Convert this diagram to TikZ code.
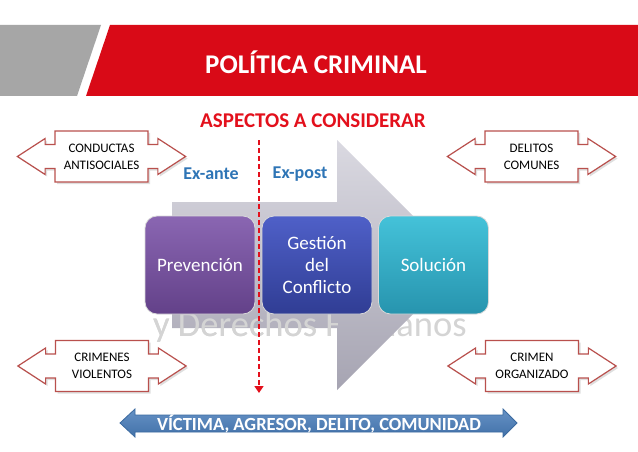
\documentclass[tikz,border=0pt]{standalone}
\usepackage{fontspec}
\setmainfont{Carlito}
\usetikzlibrary{arrows.meta,shapes.arrows,shadows}

\definecolor{barred}{HTML}{D90A17}
\definecolor{bargray}{HTML}{A6A6A6}
\definecolor{headred}{HTML}{E3101C}
\definecolor{phaseblue}{HTML}{2E75B6}
\definecolor{boxrim}{HTML}{B9504D}
\definecolor{actorblue}{HTML}{4A7EBB}
\definecolor{actorrim}{HTML}{3B6AA0}
\definecolor{flowtop}{HTML}{DAD9E1}
\definecolor{flowbot}{HTML}{A6A4B2}
\definecolor{prevtop}{HTML}{8A66B2}
\definecolor{prevbot}{HTML}{634189}
\definecolor{gesttop}{HTML}{4F60C8}
\definecolor{gestbot}{HTML}{303D94}
\definecolor{soltop}{HTML}{44C2D9}
\definecolor{solbot}{HTML}{2794AE}

\begin{document}
\begin{tikzpicture}[
    x=1pt, y=-1pt,
    crimebox/.style={arrow box, draw=boxrim, line width=1.2pt, fill=white,
        minimum width=93pt, minimum height=51pt, inner sep=0pt, align=center,
        arrow box arrows={west:37pt from border, east:37pt from border},
        arrow box shaft width=24pt, arrow box head extend=6pt, arrow box tip angle=66,
        drop shadow={opacity=0.25, shadow xshift=2pt, shadow yshift=-2pt},
        font=\fontsize{13}{17}\selectfont},
    stage/.style={rounded corners=12pt, minimum width=110pt, minimum height=98pt,
        inner sep=0pt, align=center, text=white, draw=white!70!gray, line width=0.8pt,
        font=\fontsize{19}{22}\selectfont},
    phase/.style={text=phaseblue, font=\fontsize{18}{21}\selectfont\bfseries},
    watermark/.style={anchor=base west, inner sep=0pt, text=black!17,
        font=\fontsize{36.5}{40}\selectfont},
    cut/.style={draw=headred, line width=1.6pt, dash pattern=on 5pt off 3pt,
        -{Triangle[length=7pt,width=9pt]}}
]

% Helper macro for a double arrow box with a two-line label
\newcommand{\crimearrow}[4]{% name, x, y, label
    \node[crimebox] (#1) at (#2,#3) {#4};
}

% Background and bounding box
\fill[white] (0,0) rectangle (638,452);
\useasboundingbox (0,0) rectangle (638,452);

% Component 1: header bar
\fill[bargray] (0,25) -- (101,25) -- (77,96) -- (0,96) -- cycle;
\fill[barred] (110,25) -- (638,25) -- (638,96) -- (86,96) -- cycle;
\node[text=white, font=\fontsize{27}{30}\selectfont\bfseries] (title) at (316,62) {POLÍTICA CRIMINAL};

% Component 2: heading
\node[text=headred, font=\fontsize{21}{24}\selectfont\bfseries] (aspects) at (313,121) {ASPECTOS A CONSIDERAR};

% Component 3: watermark, big flow arrow, watermark again over the shaft
\node[watermark] (wm) at (153,336) {y Derechos Humanos};
\shade[top color=flowtop, bottom color=flowbot]
    (172,202) -- (337,202) -- (337,140) -- (462,265) -- (337,390) -- (337,328) -- (172,328) -- cycle;
\begin{scope}
    \clip (140,290) rectangle (337,350);
    \node[watermark] (wm over) at (153,336) {y Derechos Humanos};
\end{scope}

% Component 4: the three stages
\node[stage, top color=prevtop, bottom color=prevbot] (prev) at (200,265) {Prevención};
\node[stage, top color=gesttop, bottom color=gestbot] (gest) at (317,265) {Gestión\\del\\Conflicto};
\node[stage, top color=soltop, bottom color=solbot] (sol) at (433.5,265) {Solución};

% Component 5: ex-ante / ex-post split
\coordinate (cut top) at (259,140);
\coordinate (cut end) at (259,393);
\draw[cut] (cut top) -- (cut end);
\node[phase] (exante) at (211,174) {Ex-ante};
\node[phase] (expost) at (300,174) {Ex-post};

% Component 6: the four kinds of crime
\crimearrow{conduct}{101.5}{156.5}{CONDUCTAS\\ANTISOCIALES}
\crimearrow{common}{531.5}{156.5}{DELITOS\\COMUNES}
\crimearrow{violent}{102}{366}{CRIMENES\\VIOLENTOS}
\crimearrow{organized}{532}{366}{CRIMEN\\ORGANIZADO}

% Component 7: actors arrow
\shade[top color=actorblue!85!white, bottom color=actorblue!90!black, draw=actorrim, line width=0.8pt]
    (120,423) -- (135,409) -- (135,415) -- (503,415) -- (503,409) -- (517,423)
    -- (503,437) -- (503,432) -- (135,432) -- (135,437) -- cycle;
\node[text=white, font=\fontsize{18.5}{21}\selectfont\bfseries] (actors) at (319,423.5) {VÍCTIMA, AGRESOR, DELITO, COMUNIDAD};

\end{tikzpicture}
\end{document}
